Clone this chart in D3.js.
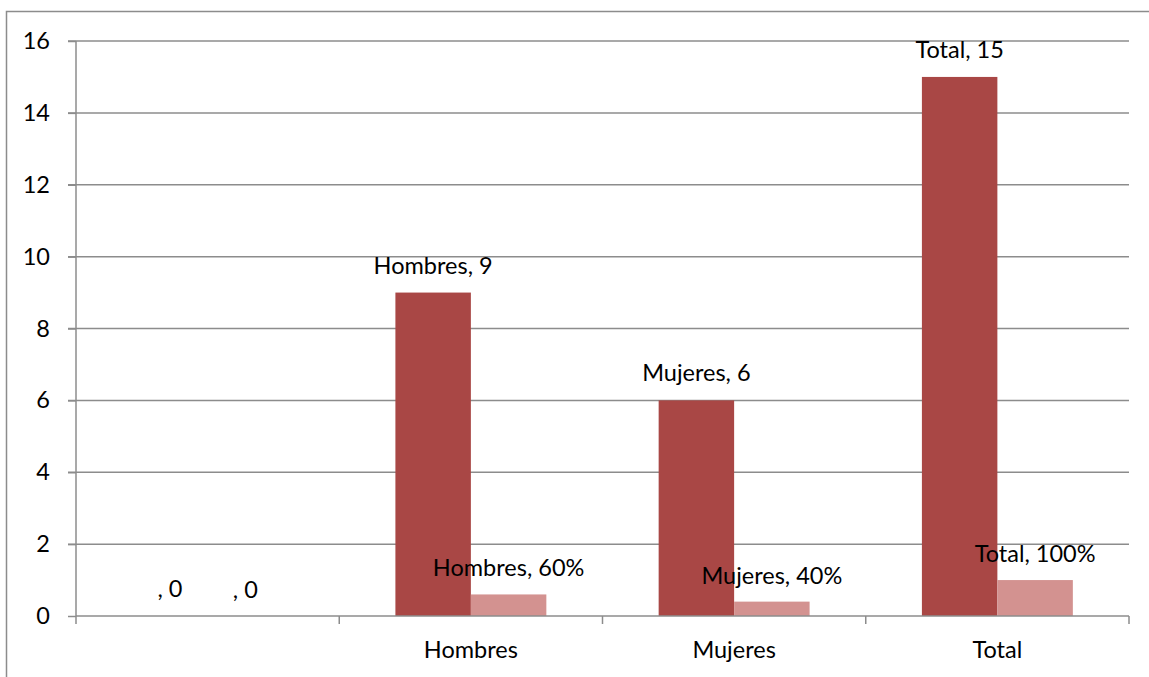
<!DOCTYPE html>
<html>
<head>
<meta charset="utf-8">
<script src="https://cdn.jsdelivr.net/npm/d3@7/dist/d3.min.js"></script>
<style>
  html, body { margin: 0; padding: 0; background: #fff; }
  svg { display: block; }
  text { font-family: Lato, "Open Sans", sans-serif; fill: #000; }
</style>
</head>
<body>
<svg id="chart" width="1149" height="677"></svg>
<script>
// Categories on the x axis (the first one has no name)
const categories = ["", "Hombres", "Mujeres", "Total"];
// Series 1: head count per category
const counts = [0, 9, 6, 15];
// Series 2: share of the total per category (fraction)
const shares = [0, 0.6, 0.4, 1];
// Labels shown above each bar
const countLabels = [", 0", "Hombres, 9", "Mujeres, 6", "Total, 15"];
const shareLabels = [", 0", "Hombres, 60%", "Mujeres, 40%", "Total, 100%"];
// Y axis ticks
const yTicks = [0, 2, 4, 6, 8, 10, 12, 14, 16];

const FS = 23.5;
const svg = d3.select("#chart");
const W = 1149, H = 677;
const plot = { left: 76, right: 1129, top: 41, bottom: 616 };

// chart frame
svg.append("rect")
  .attr("x", 6.5).attr("y", 11.5)
  .attr("width", W + 10).attr("height", H + 10)
  .attr("fill", "none").attr("stroke", "#8c8c8c").attr("stroke-width", 1.5);

const x = d3.scaleBand().domain(d3.range(categories.length))
  .range([plot.left, plot.right]).paddingInner(0).paddingOuter(0);
const y = d3.scaleLinear().domain([0, 16]).range([plot.bottom, plot.top]);

// bar geometry inside each category band
const bw = x.bandwidth();
const barW = bw * 0.2867;
const gap = (bw - 2 * barW) / 2;

// horizontal gridlines
svg.append("g").selectAll("line").data(yTicks.filter(d => d > 0)).join("line")
  .attr("x1", plot.left - 8).attr("x2", plot.right)
  .attr("y1", d => y(d)).attr("y2", d => y(d))
  .attr("stroke", "#8c8c8c").attr("stroke-width", 1.5);

// y axis
const yAxis = svg.append("g").attr("transform", `translate(${plot.left},0)`)
  .call(d3.axisLeft(y).tickValues(yTicks).tickSize(8).tickPadding(18));
yAxis.select(".domain").attr("stroke", "#8c8c8c").attr("stroke-width", 1.5)
  .attr("d", `M0,${plot.top}V${plot.bottom}`);
yAxis.selectAll(".tick line").attr("stroke", "#8c8c8c").attr("stroke-width", 1.5);
yAxis.selectAll(".tick text").attr("font-size", FS).attr("font-family", "Lato").attr("fill", "#000");

// dark bars (counts)
svg.append("g").selectAll("rect").data(counts).join("rect")
  .attr("x", (d, i) => x(i) + gap)
  .attr("y", d => y(d))
  .attr("width", barW)
  .attr("height", d => y(0) - y(d))
  .attr("fill", "#a94745");

// light bars (shares)
svg.append("g").selectAll("rect").data(shares).join("rect")
  .attr("x", (d, i) => x(i) + gap + barW)
  .attr("y", d => y(d))
  .attr("width", barW)
  .attr("height", d => y(0) - y(d))
  .attr("fill", "#d39290");

// x axis
const xAxis = svg.append("g").attr("transform", `translate(0,${plot.bottom})`);
xAxis.append("line")
  .attr("x1", plot.left).attr("x2", plot.right)
  .attr("y1", 0).attr("y2", 0)
  .attr("stroke", "#8c8c8c").attr("stroke-width", 1.5);
xAxis.selectAll("line.tick").data(d3.range(categories.length + 1)).join("line")
  .attr("class", "tick")
  .attr("x1", i => plot.left + i * bw).attr("x2", i => plot.left + i * bw)
  .attr("y1", 0).attr("y2", 8)
  .attr("stroke", "#8c8c8c").attr("stroke-width", 1.5);
xAxis.selectAll("text").data(categories).join("text")
  .attr("x", (d, i) => x(i) + bw / 2)
  .attr("y", 42)
  .attr("text-anchor", "middle")
  .attr("font-size", FS)
  .text(d => d);

// value labels
svg.append("g").selectAll("text").data(counts).join("text")
  .attr("x", (d, i) => x(i) + gap + barW / 2)
  .attr("y", d => y(d) - 19)
  .attr("text-anchor", "middle")
  .attr("font-size", FS)
  .text((d, i) => countLabels[i]);

svg.append("g").selectAll("text").data(shares).join("text")
  .attr("x", (d, i) => x(i) + gap + barW * 1.5)
  .attr("y", d => y(d) - 18)
  .attr("text-anchor", "middle")
  .attr("font-size", FS)
  .text((d, i) => shareLabels[i]);
</script>
</body>
</html>
